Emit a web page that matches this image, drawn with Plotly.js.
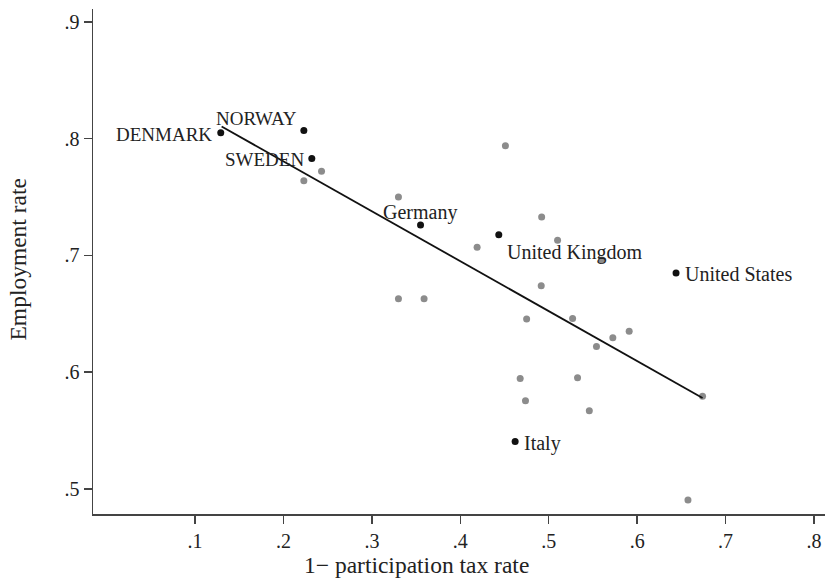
<!DOCTYPE html>
<html>
<head>
<meta charset="utf-8">
<script src="https://cdn.plot.ly/plotly-3.0.1.min.js"></script>
<style>html,body{margin:0;padding:0;background:#fff;}#chart{width:825px;height:580px;}</style>
</head>
<body>
<div id="chart"></div>
<script>
// Other countries (gray points)
const otherX = [0.243, 0.223, 0.330, 0.451, 0.492, 0.510, 0.419, 0.560, 0.4915, 0.330, 0.359,
                0.475, 0.527, 0.591, 0.5725, 0.554, 0.4677, 0.5326, 0.674, 0.4737, 0.5459, 0.6575];
const otherY = [0.772, 0.764, 0.750, 0.794, 0.733, 0.713, 0.707, 0.696, 0.674, 0.663, 0.663,
                0.6455, 0.646, 0.635, 0.6295, 0.622, 0.5946, 0.5952, 0.5795, 0.5755, 0.5669, 0.4906];
// Labelled countries (black points)
const namedCountries = ['DENMARK', 'NORWAY', 'SWEDEN', 'Germany', 'United Kingdom', 'United States', 'Italy'];
const namedX = [0.129, 0.223, 0.232, 0.355, 0.4435, 0.644, 0.462];
const namedY = [0.805, 0.807, 0.783, 0.726, 0.7176, 0.685, 0.5406];
// Fitted line endpoints
const fitX = [0.130, 0.674];
const fitY = [0.8104, 0.578];
// Axis ticks
const xTickVals = [0.1, 0.2, 0.3, 0.4, 0.5, 0.6, 0.7, 0.8];
const xTickText = ['.1', '.2', '.3', '.4', '.5', '.6', '.7', '.8'];
const yTickVals = [0.5, 0.6, 0.7, 0.8, 0.9];
const yTickText = ['.5', '.6', '.7', '.8', '.9'];
const xTitle = '1\u2212 participation tax rate';
const yTitle = 'Employment rate';

// label placement (styles)
const labelPlacement = {
  'DENMARK':        {xanchor: 'right',  xshift: -7, yshift: -2, size: 19},
  'NORWAY':         {xanchor: 'right',  xshift: -5, yshift: 12, size: 19},
  'SWEDEN':         {xanchor: 'right',  xshift: -6, yshift: -1, size: 19},
  'Germany':        {xanchor: 'center', xshift: -1, yshift: 13, size: 20},
  'United Kingdom': {xanchor: 'left',   xshift: 6,  yshift: -18, size: 20},
  'United States':  {xanchor: 'left',   xshift: 7,  yshift: -1, size: 20},
  'Italy':          {xanchor: 'left',   xshift: 7,  yshift: -2, size: 20}
};

const FONT = '"Liberation Serif", "Times New Roman", serif';
const TXT = '#222';

const traces = [
  {x: otherX, y: otherY, type: 'scatter', mode: 'markers',
   marker: {color: '#8c8c8c', size: 7}, hoverinfo: 'x+y', showlegend: false},
  {x: fitX, y: fitY, type: 'scatter', mode: 'lines',
   line: {color: '#111', width: 1.8}, hoverinfo: 'skip', showlegend: false},
  {x: namedX, y: namedY, text: namedCountries, type: 'scatter', mode: 'markers',
   marker: {color: '#111', size: 7}, hoverinfo: 'text+x+y', showlegend: false}
];

const annotations = namedCountries.map((name, i) => {
  const p = labelPlacement[name];
  return {
    x: namedX[i], y: namedY[i], xref: 'x', yref: 'y', text: name, showarrow: false,
    yanchor: 'middle', xanchor: p.xanchor, xshift: p.xshift, yshift: p.yshift,
    font: {family: FONT, size: p.size, color: TXT}
  };
});

annotations.push({
  xref: 'paper', yref: 'paper', x: 0, y: 0, xanchor: 'center', yanchor: 'middle',
  xshift: 323, yshift: -51, text: xTitle, showarrow: false,
  font: {family: FONT, size: 23.5, color: TXT}
});
annotations.push({
  xref: 'paper', yref: 'paper', x: 0, y: 0.5, xanchor: 'center', yanchor: 'middle',
  xshift: -76, yshift: 2, text: yTitle, showarrow: false, textangle: -90,
  font: {family: FONT, size: 23.5, color: TXT}
});

const layout = {
  width: 825, height: 580,
  margin: {l: 93, r: 0, t: 9, b: 66},
  paper_bgcolor: '#fff', plot_bgcolor: '#fff',
  font: {family: FONT, size: 20, color: TXT},
  showlegend: false,
  xaxis: {
    range: [-0.0155, 0.8125], tickvals: xTickVals, ticktext: xTickText,
    showgrid: false, zeroline: false, showline: true, linecolor: '#444', linewidth: 1.5,
    ticks: 'outside', ticklen: 8, tickwidth: 1.5, tickcolor: '#444',
    tickfont: {family: FONT, size: 20, color: TXT}
  },
  yaxis: {
    range: [0.4786, 0.911], tickvals: yTickVals, ticktext: yTickText,
    showgrid: false, zeroline: false, showline: true, linecolor: '#444', linewidth: 1.5,
    ticks: 'outside', ticklen: 8, tickwidth: 1.5, tickcolor: '#444',
    tickfont: {family: FONT, size: 20, color: TXT}
  },
  annotations: annotations
};

Plotly.newPlot('chart', traces, layout, {staticPlot: true, displayModeBar: false});
</script>
</body>
</html>
